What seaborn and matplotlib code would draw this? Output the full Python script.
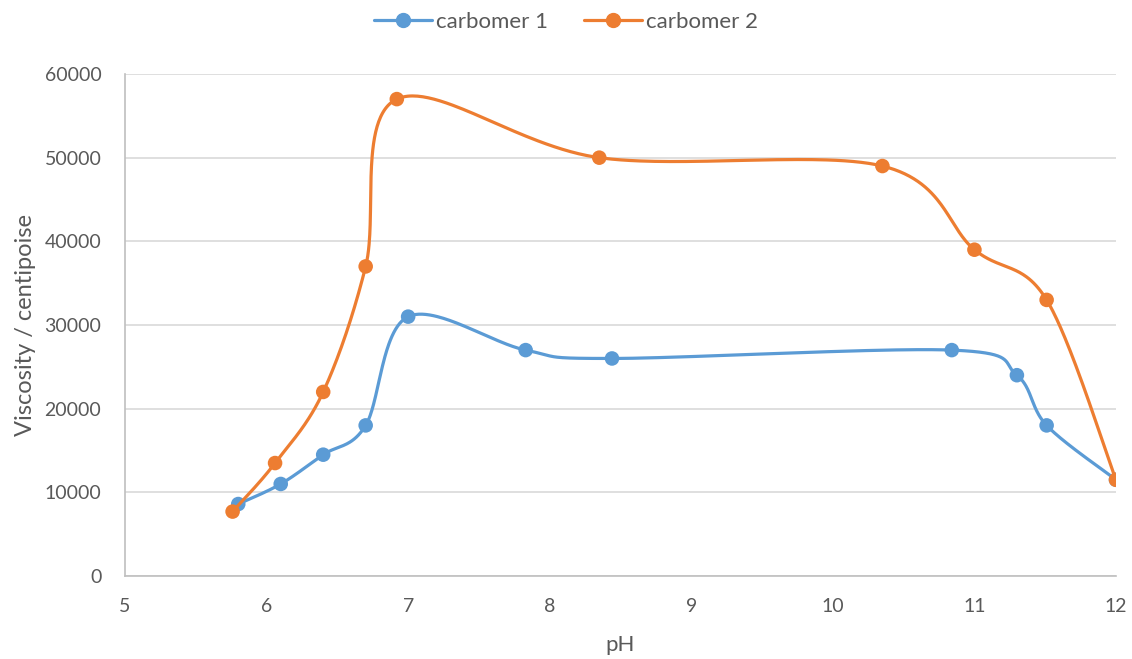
import numpy as np
import pandas as pd
import matplotlib
matplotlib.use("Agg")
import matplotlib.pyplot as plt
from matplotlib.lines import Line2D
import seaborn as sns

# Viscosity measurements versus pH for two carbomer grades
ph_c1 = [5.8, 6.1, 6.4, 6.7, 7.0, 7.83, 8.44, 10.84, 11.3, 11.51, 12.0]
visc_c1 = [8600, 11000, 14500, 18000, 31000, 27000, 26000, 27000, 24000, 18000, 11500]

ph_c2 = [5.76, 6.06, 6.4, 6.7, 6.92, 8.35, 10.35, 11.0, 11.51, 12.0]
visc_c2 = [7700, 13500, 22000, 37000, 57000, 50000, 49000, 39000, 33000, 11500]

series_names = ["carbomer 1", "carbomer 2"]
colors = ["#5B9BD5", "#ED7D31"]
x_ticks = [5, 6, 7, 8, 9, 10, 11, 12]
y_ticks = [0, 10000, 20000, 30000, 40000, 50000, 60000]

TEXT = "#595959"

sns.set_theme(style="white")
plt.rcParams["font.family"] = ["Lato", "DejaVu Sans"]

fig = plt.figure(figsize=(11.32, 6.59), dpi=100)
W, H = 1132, 659
ax = fig.add_axes([125 / W, (H - 576) / H, (1116 - 125) / W, (576 - 74) / H])
ax.set_xlim(5, 12)
ax.set_ylim(0, 60000)


def smooth(xs, ys, n=60):
    """Bezier smoothing (Catmull-Rom style tangents) computed in display space."""
    pts = ax.transData.transform(np.column_stack([xs, ys]))
    out = []
    m = len(pts)
    for i in range(m - 1):
        p0 = pts[i - 1] if i > 0 else pts[i]
        p1 = pts[i]
        p2 = pts[i + 1]
        p3 = pts[i + 2] if i + 2 < m else pts[i + 1]
        c1 = p1 + (p2 - p0) / 6.0
        c2 = p2 - (p3 - p1) / 6.0
        t = np.linspace(0, 1, n)[:, None]
        seg = ((1 - t) ** 3) * p1 + 3 * ((1 - t) ** 2) * t * c1 + 3 * (1 - t) * t ** 2 * c2 + t ** 3 * p2
        out.append(seg if i == 0 else seg[1:])
    curve = ax.transData.inverted().transform(np.vstack(out))
    return curve[:, 0], curve[:, 1]


for k, (xs, ys) in enumerate([(ph_c1, visc_c1), (ph_c2, visc_c2)]):
    cx, cy = smooth(xs, ys)
    df_curve = pd.DataFrame({"pH": cx, "v": cy})
    sns.lineplot(data=df_curve, x="pH", y="v", sort=False, estimator=None,
                 color=colors[k], linewidth=2.3, ax=ax, zorder=3 + k,
                 solid_capstyle="round")
    df_pts = pd.DataFrame({"pH": xs, "v": ys})
    sns.scatterplot(data=df_pts, x="pH", y="v", color=colors[k], s=110,
                    edgecolor="none", ax=ax, zorder=3.5 + k)

ax.set_xlim(5, 12)
ax.set_ylim(0, 60000)
ax.set_xticks(x_ticks)
ax.set_yticks(y_ticks)
ax.set_xticklabels([str(v) for v in x_ticks])
ax.set_yticklabels([str(v) for v in y_ticks])
ax.tick_params(axis="both", length=0, labelsize=14, colors=TEXT)
ax.tick_params(axis="x", pad=16)
ax.tick_params(axis="y", pad=17)

ax.grid(axis="y", color="#D9D9D9", linewidth=1.2)
ax.grid(axis="x", visible=False)
for side in ["top", "right"]:
    ax.spines[side].set_visible(False)
for side in ["left", "bottom"]:
    ax.spines[side].set_color("#BFBFBF")
    ax.spines[side].set_linewidth(1.2)

ax.set_xlabel("pH", fontsize=16, color=TEXT, labelpad=14)
ax.set_ylabel("Viscosity / centipoise", fontsize=17, color=TEXT, labelpad=6)

handles = [Line2D([0], [0], color=c, linewidth=2.3, marker="o", markersize=10)
           for c in colors]
fig.legend(handles, series_names, loc="center", bbox_to_anchor=(0.5, 1 - 22 / H),
           ncol=2, frameon=False, fontsize=16, labelcolor=TEXT,
           handlelength=2.6, columnspacing=1.6, handletextpad=0.2)

fig.savefig("out.png", dpi=100)
